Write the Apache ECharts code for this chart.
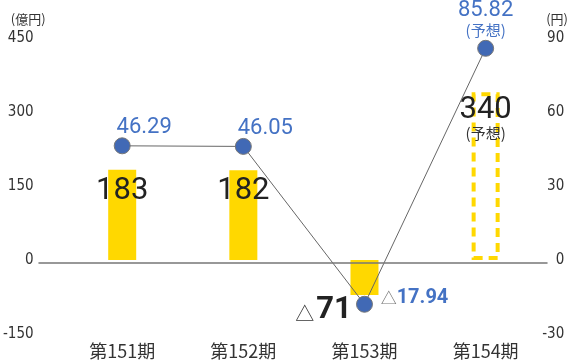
<!DOCTYPE html>
<html>
<head>
<meta charset="utf-8">
<script src="https://cdn.jsdelivr.net/npm/echarts@6/dist/echarts.min.js"></script>
<style>
  html, body { margin: 0; padding: 0; background: #fff; }
  #main { width: 571px; height: 360px; }
</style>
</head>
<body>
<div id="main"></div>
<script>
// 期別
var categories = ['第151期', '第152期', '第153期', '第154期'];
// 当期純利益(億円)
var profitValues = [183, 182, -71, 340];
// 1株当たり当期純利益(円)
var epsValues = [46.29, 46.05, -17.94, 85.82];
// 予想の期
var forecastIndex = 3;
// 目盛
var leftAxis = { min: -150, max: 450, interval: 150 };
var rightAxis = { min: -30, max: 90, interval: 30 };

var YELLOW = '#ffd800';
var BLUE = '#4472c4';
var narrow = "'Liberation Sans Narrow', 'DejaVu Sans Condensed', sans-serif";
var cjk = "'Noto Sans CJK JP', sans-serif";
var numFont = "Roboto, 'Noto Sans', sans-serif";

var barData = profitValues.map(function (v, i) {
    var item = { value: v };
    if (i === forecastIndex) {
        item.itemStyle = {
            color: 'rgba(0,0,0,0)',
            borderColor: YELLOW,
            borderWidth: 4,
            borderType: [9, 6]
        };
        item.label = { position: 'insideTop', distance: 2 };
    } else if (v < 0) {
        item.label = { position: 'inside', offset: [-41, 33] };
    }
    return item;
});

var lineData = epsValues.map(function (v, i) {
    var item = { value: v };
    if (i === forecastIndex) {
        item.label = { offset: [0, -29] };
    } else if (v < 0) {
        item.label = { offset: [50, -6] };
    } else {
        item.label = { offset: [22, -18] };
    }
    return item;
});

var chart = echarts.init(document.getElementById('main'));
var option = {
    animation: false,
    grid: [
        { left: 61, right: 21, top: 38, bottom: 22 },
        { left: 39, right: 24, top: 38, bottom: 22 }
    ],
    xAxis: [
        {
            type: 'category',
            gridIndex: 0,
            data: categories,
            axisLine: { show: false },
            axisTick: { show: false },
            axisLabel: { margin: 8, fontSize: 18, color: '#333', fontFamily: cjk }
        },
        {
            // 0 の基準線
            type: 'category',
            gridIndex: 1,
            data: categories,
            z: 10,
            axisLine: { onZero: true, lineStyle: { color: '#777', width: 1.5 } },
            axisTick: { show: false },
            axisLabel: { show: false }
        }
    ],
    yAxis: [
        {
            type: 'value',
            gridIndex: 0,
            position: 'left',
            min: leftAxis.min,
            max: leftAxis.max,
            interval: leftAxis.interval,
            name: '(億円)',
            nameLocation: 'end',
            nameGap: 12,
            nameTextStyle: { align: 'right', padding: [0, 16, 0, 0], fontSize: 13, color: '#333', fontFamily: cjk },
            axisLine: { show: false },
            axisTick: { show: false },
            splitLine: { show: false },
            axisLabel: { margin: 28, fontSize: 15, color: '#333', fontFamily: narrow }
        },
        {
            type: 'value',
            gridIndex: 0,
            position: 'right',
            min: rightAxis.min,
            max: rightAxis.max,
            interval: rightAxis.interval,
            name: '(円)',
            nameLocation: 'end',
            nameGap: 12,
            nameTextStyle: { align: 'left', fontSize: 13, color: '#333', fontFamily: cjk },
            axisLine: { show: false },
            axisTick: { show: false },
            splitLine: { show: false },
            axisLabel: { align: 'right', margin: 18, fontSize: 15, color: '#333', fontFamily: narrow }
        },
        {
            type: 'value',
            gridIndex: 1,
            min: leftAxis.min,
            max: leftAxis.max,
            show: false
        }
    ],
    series: [
        {
            name: '当期純利益',
            type: 'bar',
            xAxisIndex: 0,
            yAxisIndex: 0,
            barWidth: 28,
            itemStyle: { color: YELLOW },
            data: barData,
            label: {
                show: true,
                position: 'insideTop',
                distance: 6,
                formatter: function (p) {
                    if (p.dataIndex === forecastIndex) {
                        return '{a|' + p.value + '}\n{b|(予想)}';
                    }
                    if (p.value < 0) {
                        return '{t|△}{n|' + Math.abs(p.value) + '}';
                    }
                    return '{a|' + p.value + '}';
                },
                rich: {
                    a: { fontSize: 31, color: '#222', fontFamily: numFont, lineHeight: 31, align: 'center' },
                    b: { fontSize: 15, color: '#333', fontFamily: cjk, lineHeight: 17, align: 'center' },
                    t: { fontSize: 19, color: '#333', fontFamily: cjk, padding: [6, 2, 0, 0] },
                    n: { fontSize: 31, color: '#222', fontWeight: 'bold', fontFamily: numFont }
                }
            }
        },
        {
            name: '1株当たり当期純利益',
            type: 'line',
            xAxisIndex: 0,
            yAxisIndex: 1,
            symbol: 'circle',
            symbolSize: 16,
            lineStyle: { color: '#666', width: 1 },
            itemStyle: { color: '#4169b5', borderColor: '#777', borderWidth: 1 },
            data: lineData,
            z: 5,
            label: {
                show: true,
                position: 'inside',
                formatter: function (p) {
                    if (p.dataIndex === forecastIndex) {
                        return '{a|' + p.value.toFixed(2) + '}\n{b|(予想)}';
                    }
                    if (p.value < 0) {
                        return '{t|△}{n|' + Math.abs(p.value).toFixed(2) + '}';
                    }
                    return '{a|' + p.value.toFixed(2) + '}';
                },
                rich: {
                    a: { fontSize: 22, color: BLUE, fontFamily: numFont, lineHeight: 22, align: 'center' },
                    b: { fontSize: 15, color: BLUE, fontFamily: cjk, lineHeight: 17, align: 'center' },
                    t: { fontSize: 16, color: '#777', fontFamily: cjk },
                    n: { fontSize: 20, color: BLUE, fontWeight: 'bold', fontFamily: numFont }
                }
            }
        }
    ]
};
chart.setOption(option);
</script>
</body>
</html>
